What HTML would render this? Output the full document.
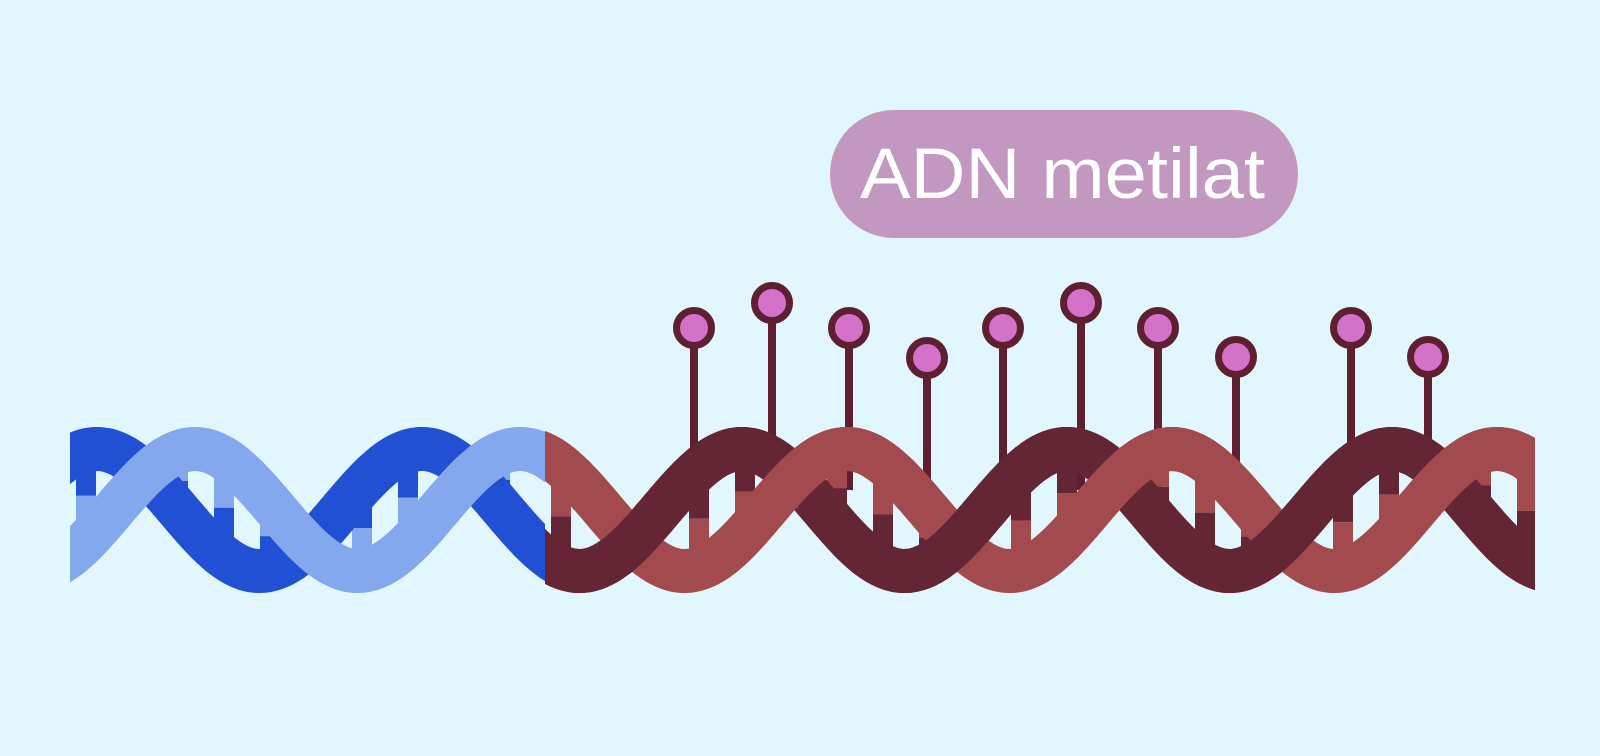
<!DOCTYPE html>
<html><head><meta charset="utf-8"><style>
html,body{margin:0;padding:0;background:#e1f6fd;width:1600px;height:756px;overflow:hidden}
</style></head><body>
<svg id="s" width="1600" height="756" viewBox="0 0 1600 756" xmlns="http://www.w3.org/2000/svg">
<rect width="1600" height="756" fill="#e1f6fd"/>
<rect x="830" y="110" width="468" height="128" rx="64" fill="#c398c0"/>
<text x="860" y="198" font-family="Liberation Sans, sans-serif" font-size="71" fill="#ffffff" textLength="405" lengthAdjust="spacingAndGlyphs">ADN metilat</text>
<defs>
<clipPath id="cb"><rect x="70" y="380" width="475" height="260"/></clipPath>
<clipPath id="cr"><rect x="545" y="380" width="990" height="260"/></clipPath>
<clipPath id="crt"><rect x="545" y="380" width="990" height="130"/></clipPath>
</defs>
<g id="pins"></g>
<g id="helix"></g>
</svg>
<script>
var NS="http://www.w3.org/2000/svg";
var P=325,A=61,C=510,W=44;
function y(x,t){return C-A*Math.cos(2*Math.PI*(x-t)/P);}
function path(t,x0,x1){var d="";for(var x=x0;x<=x1;x+=2){d+=(x==x0?"M":"L")+x+","+y(x,t).toFixed(1)+" ";}return d;}
function el(n,a,p){var e=document.createElementNS(NS,n);for(var k in a)e.setAttribute(k,a[k]);p.appendChild(e);return e;}
var H=document.getElementById("helix"),Pg=document.getElementById("pins");
var pins=[[694,328],[772,303],[849,328],[927,358],[1003,328],[1081,303],[1158,328],[1236,357],[1351,328],[1428,357]];
pins.forEach(function(p){
 el("rect",{x:p[0]-4,y:p[1],width:8,height:490-p[1],fill:"#5e1f30"},Pg);
 el("circle",{cx:p[0],cy:p[1],r:17.5,fill:"#d372c8",stroke:"#5e1f30","stroke-width":7},Pg);
});
function section(clip,x0,x1,tD,tL,cD,cL,redMode){
 var g=el("g",{"clip-path":"url(#"+clip+")"},H);
 for(var x=x0+16;x<x1;x+=46){
  var yd=y(x,tD),yl=y(x,tL),top=Math.min(yd,yl),bot=Math.max(yd,yl);
  if(bot-top<50)continue;
  var mid=(top+bot)/2;
  var topC=yd<yl?cD:cL,botC=yd<yl?cL:cD;
  el("rect",{x:x-10,y:top,width:20,height:mid-top,fill:topC},g);
  el("rect",{x:x-10,y:mid,width:20,height:bot-mid,fill:botC},g);
 }
 el("path",{d:path(tD,x0-40,x1+40),fill:"none",stroke:cD,"stroke-width":W},g);
 el("path",{d:path(tL,x0-40,x1+40),fill:"none",stroke:cL,"stroke-width":W},g);
 if(redMode){
  var g2=el("g",{"clip-path":"url(#"+clip+")"},H);
  el("path",{d:path(tD,x0-40,x1+40),fill:"none",stroke:cD,"stroke-width":W},g2);
  var g3=el("g",{"clip-path":"url(#crt)"},H);
  el("path",{d:path(tL,x0-40,x1+40),fill:"none",stroke:cL,"stroke-width":W},g3);
 }
}
section("cb",70,545,97,195,"#2150d4","#84a8ee",false);
section("cr",545,1535,742,847,"#642535","#a34a4f",true);
</script>
</body></html>
